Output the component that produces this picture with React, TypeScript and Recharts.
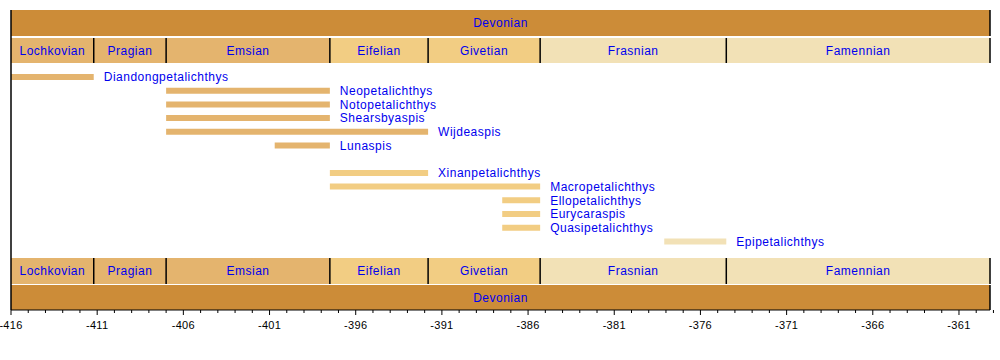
import React from 'react';
import {
  ComposedChart,
  XAxis,
  YAxis,
  ReferenceArea,
  ReferenceLine,
} from 'recharts';

// Devonian period and its stages (Ma, negative = before present)
const periodName = 'Devonian';
const periodStart = -416;
const periodEnd = -359.2;

const stageNames = ['Lochkovian', 'Pragian', 'Emsian', 'Eifelian', 'Givetian', 'Frasnian', 'Famennian'];
const stageStarts = [-416, -411.2, -407, -397.5, -391.8, -385.3, -374.5];
const stageEnds = [-411.2, -407, -397.5, -391.8, -385.3, -374.5, -359.2];
const stageEpochs = ['Early', 'Early', 'Early', 'Middle', 'Middle', 'Late', 'Late'];

// Petalichthyid taxa ranges
const taxonNames = [
  'Diandongpetalichthys',
  'Neopetalichthys',
  'Notopetalichthys',
  'Shearsbyaspis',
  'Wijdeaspis',
  'Lunaspis',
  'Xinanpetalichthys',
  'Macropetalichthys',
  'Ellopetalichthys',
  'Eurycaraspis',
  'Quasipetalichthys',
  'Epipetalichthys',
];
const taxonStarts = [-416, -407, -407, -407, -407, -400.7, -397.5, -397.5, -387.5, -387.5, -387.5, -378.1];
const taxonEnds = [-411.2, -397.5, -397.5, -397.5, -391.8, -397.5, -391.8, -385.3, -385.3, -385.3, -385.3, -374.5];
const taxonEpochs = ['Early', 'Early', 'Early', 'Early', 'Early', 'Early', 'Middle', 'Middle', 'Middle', 'Middle', 'Middle', 'Late'];
const taxonRows = [0, 1, 2, 3, 4, 5, 7, 8, 9, 10, 11, 12];

const xTicks: number[] = [];
for (let v = -416; v <= -359; v++) xTicks.push(v);

const EPOCH_COLORS: Record<string, string> = {
  Early: '#e4b46e',
  Middle: '#f2cd83',
  Late: '#f2e1b6',
};
const PERIOD_COLOR = '#cc8c38';
const TEXT_BLUE = '#0000ee';
const FONT = '"Liberation Sans", Arial, sans-serif';

function AxisTick(props: any) {
  const { x, y, payload } = props;
  const v = payload.value as number;
  const major = (v + 416) % 5 === 0;
  return (
    <g>
      <line x1={x} y1={y} x2={x} y2={y + (major ? 5 : 3)} stroke="#000" />
      {major && (
        <text
          x={x}
          y={y + 19}
          textAnchor="middle"
          fontSize={11}
          letterSpacing={0.3}
          fill="#000"
          fontFamily={FONT}
        >
          {v}
        </text>
      )}
    </g>
  );
}

// y positions in plot units (plot is 300 units tall, 0 at top)
const bandRows = [
  { top: 0, bottom: 26, kind: 'period' },
  { top: 28, bottom: 53, kind: 'stage' },
  { top: 248, bottom: 274, kind: 'stage' },
  { top: 275, bottom: 300, kind: 'period' },
];

export default function App() {
  const labelStyle = { fill: TEXT_BLUE, fontSize: 12, fontFamily: FONT, letterSpacing: 0.5 };
  return (
    <div style={{ position: 'absolute', left: 0, top: 0, background: '#fff' }}>
      <ComposedChart
        width={1000}
        height={360}
        data={[]}
        margin={{ top: 10, right: 10, left: 11, bottom: 20 }}
      >
        <XAxis
          type="number"
          dataKey="x"
          domain={[periodStart, periodEnd]}
          ticks={xTicks}
          interval={0}
          allowDataOverflow
          tickLine={false}
          tickSize={0}
          tickMargin={0}
          axisLine={{ stroke: '#000' }}
          tick={<AxisTick />}
          height={30}
        />
        <YAxis type="number" dataKey="y" domain={[0, 300]} reversed hide allowDataOverflow />

        {bandRows.map((band, bi) =>
          band.kind === 'period' ? (
            <ReferenceArea
              key={`p-${bi}`}
              x1={periodStart}
              x2={periodEnd}
              y1={band.top}
              y2={band.bottom}
              fill={PERIOD_COLOR}
              fillOpacity={1}
              stroke="none"
              ifOverflow="visible"
              label={{ value: periodName, position: 'center', ...labelStyle }}
            />
          ) : (
            stageNames.map((name, i) => (
              <ReferenceArea
                key={`s-${bi}-${i}`}
                x1={stageStarts[i]}
                x2={stageEnds[i]}
                y1={band.top}
                y2={band.bottom}
                fill={EPOCH_COLORS[stageEpochs[i]]}
                fillOpacity={1}
                stroke="none"
                ifOverflow="visible"
                label={{ value: name, position: 'center', ...labelStyle }}
              />
            ))
          )
        )}

        {bandRows.map((band, bi) =>
          stageEnds.map((end, i) => (
            <ReferenceLine
              key={`sep-${bi}-${i}`}
              segment={[
                { x: end, y: band.top },
                { x: end, y: band.bottom },
              ]}
              stroke={band.kind === 'period' && end !== periodEnd ? 'none' : '#000'}
              strokeWidth={1.5}
              ifOverflow="visible"
            />
          ))
        )}

        {taxonNames.map((name, i) => {
          const y1 = 64 + taxonRows[i] * 13.7;
          return (
            <ReferenceArea
              key={`t-${i}`}
              x1={taxonStarts[i]}
              x2={taxonEnds[i]}
              y1={y1}
              y2={y1 + 6}
              fill={EPOCH_COLORS[taxonEpochs[i]]}
              fillOpacity={1}
              stroke="none"
              ifOverflow="visible"
              label={{ value: name, position: 'right', offset: 10, ...labelStyle }}
            />
          );
        })}

        <ReferenceLine x={periodStart} stroke="#000" strokeWidth={1.5} ifOverflow="visible" />
      </ComposedChart>
    </div>
  );
}
